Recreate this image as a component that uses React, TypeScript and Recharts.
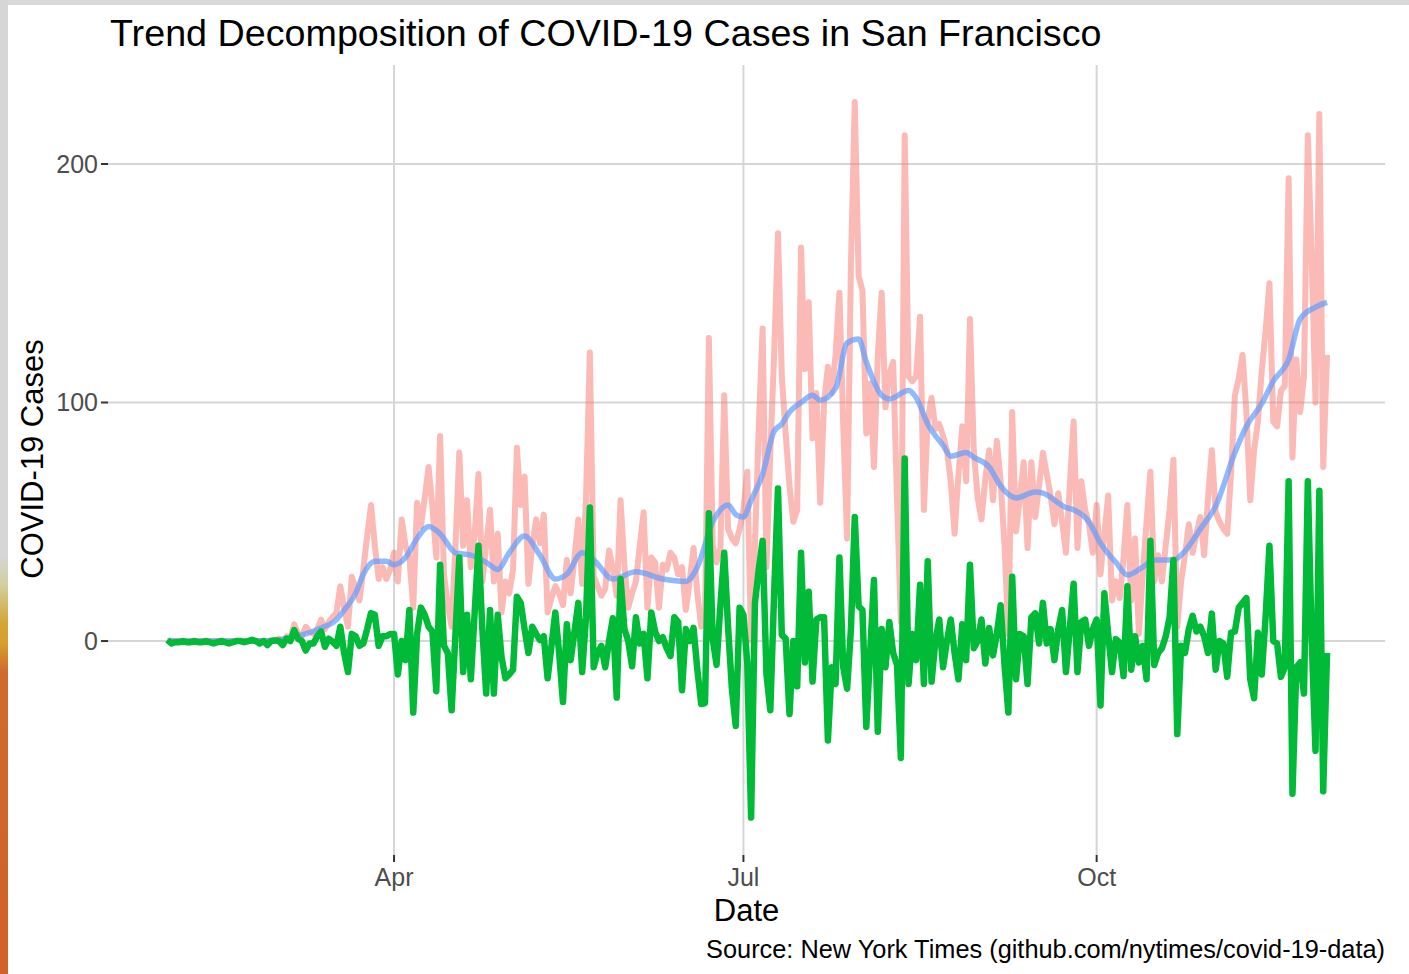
import { LineChart, Line, XAxis, YAxis, CartesianGrid } from 'recharts';

// day 0 = 2020-02-02, one value per day up to 2020-11-30
const monthTicks = [59, 150, 242];
const monthLabels = ['Apr', 'Jul', 'Oct'];
const caseTicks = [0, 100, 200];
const dayDomain = [-15.5, 317.1];
const caseDomain = [-89.7, 241.5];

// observed daily cases
const cases = [
  0, 0, 0, 0, 0, 0, 0, 0, 0, 0,
  0, 0, 0, 0, 0, 0, 0, 0, 0, 0,
  0, 0, 0, 0, 0, 0, 0, 0, 0, 1,
  0, 2, 1, 7, 3, 2, 6, 4, 3, 5,
  9, 5, 8, 10, 12, 23, 14, 6, 27, 22,
  17, 30, 44, 57, 40, 26, 31, 26, 30, 37,
  25, 51, 40, 35, 14, 58, 48, 60, 73, 56,
  35, 86, 28, 15, 6, 40, 79, 40, 59, 31,
  45, 70, 25, 40, 55, 25, 45, 12, 25, 20,
  30, 81, 57, 69, 24, 40, 51, 41, 53, 12,
  18, 23, 20, 15, 34, 20, 35, 51, 24, 60,
  121, 27, 23, 19, 22, 38, 30, 19, 59, 32,
  14, 20, 25, 40, 54, 14, 35, 33, 14, 32,
  30, 37, 35, 28, 31, 13, 25, 39, 20, 6,
  10, 127, 40, 33, 39, 103, 47, 43, 41, 47,
  55, 71, 0, 40, 90, 131, 31, 79, 120, 171,
  111, 87, 65, 50, 55, 165, 114, 142, 85, 104,
  58, 100, 115, 104, 120, 146, 90, 43, 158, 226,
  153, 147, 87, 108, 73, 120, 146, 98, 112, 117,
  60, 8, 212, 111, 109, 111, 136, 55, 93, 102,
  89, 91, 86, 80, 67, 45, 70, 90, 67, 135,
  80, 60, 51, 68, 80, 59, 84, 67, 40, 3,
  96, 46, 60, 75, 39, 75, 52, 65, 79, 70,
  61, 49, 62, 50, 37, 65, 92, 39, 67, 55,
  49, 37, 57, 28, 45, 61, 17, 25, 18, 35,
  57, 17, 43, 3, 28, 50, 71, 25, 36, 25,
  40, 55, 76, 6, 25, 36, 49, 37, 45, 52,
  36, 60, 80, 54, 50, 47, 45, 70, 103, 110,
  120, 96, 59, 80, 92, 113, 130, 150, 92, 90,
  105, 107, 194, 77, 118, 96, 111, 212, 161, 100,
  221, 73, 120,
];

// remainder component
const remainder = [
  0.5, -1, -0.5, -0.5, 0, -0.5, -0.5, 0, -0.5, -0.5,
  0, -0.5, -1, -0.5, 0, -0.5, -1, -0.5, 0, 0,
  -0.5, 0, 0.5, 0, -1, 0, -1.7, 0, 0.3, 0,
  -1.7, 1, 0, 4.6, 1, 0, -4, -1, -1, 2,
  4, -2.4, 1, -0.3, -2, 6, -5, -13, 3, 2,
  -2, -1, 5, 11.7, 11, -2, 2, 2, 3, 3,
  -14, 0, -8, 13, -30, 3, 14, 11, 6, 4,
  -21, 32, -2, -5, -29, 3, 35, -13, 11, -16,
  12, 40, 5, -22, 13, -22, 11, -6.7, -15.6, -14,
  -12, 18.6, 16, 5, -5, 6, 3, 0.4, 2, -15.6,
  -2, 12, -5, -25.6, 7, -8, 4, 16, -13, 10,
  56, -11, -5, -2, -11, 0, 9.6, -23.7, 26, 5,
  0, -10.6, 10, -1, 3, -15.6, 12, 4, 0, 1.6,
  -3, -6.3, 10, 8, -20.6, 5, 0, 5.5, -12, -26.4,
  -26, 53.6, 1, -10, 15, 37, 6, -20, -35.6, 14,
  11, -9, -74, 16, 30, 42, -14, -29, 20, 64,
  2.6, 1, -30.6, 0, -19, 37, -9, 20.7, -17, 9,
  10, 10, -41.7, -11, -18, 35, -11, -20, 5, 52,
  14.6, 13, -36, -5, 25.6, -38, 5, -11, 8, -5,
  -10, -49, 76.5, -18, 3, -8, 23.6, -18, 33.5, -17,
  0, 9, -11, 0, 9, -5, -16, 7, -8, 32,
  -3, 0, 9, -9.4, 5.5, -6, 3, 15, -10, -30,
  27, -16, 3, 2, -18, 10, 11.6, -1, 16, -1,
  5, -8, 5, 13, -13, 5, 24, -13, 8, 9,
  -2, 5, 9, -27, 20, 3, -13, 0.8, -0.6, -14.7,
  23, -12, 2, -9, -2, -16, 42, -10, -5, -3,
  2, 10, 34, -39, -2, -5, 5, 10.6, 4, 6,
  2, -5, 11.5, -12, 0, -1, -15, 3.5, 4, 14,
  16, 18, -16, -24, 3.5, -14, 10, 40, 0, -1,
  -15, -11, 67, -64, -11, -9, -22, 67, 1, -46,
  63, -63, -5,
];

// trend component, read at these days
const trendDays = [
  0, 10, 20, 28, 32, 36, 40, 44, 46, 49, 51, 54, 57, 59, 62, 65, 68, 71, 75, 79,
  83, 86, 89, 93, 97, 101, 104, 108, 111, 116, 122, 129, 135, 138, 142, 144, 146, 148, 150, 152,
  155, 158, 160, 162, 165, 168, 170, 174, 177, 180, 182, 186, 188, 193, 195, 198, 202, 204, 208, 210,
  214, 217, 221, 226, 228, 234, 236, 240, 243, 247, 250, 254, 257, 262, 265, 269, 273, 278, 281, 285,
  288, 292, 295, 299, 302,
];
const trendCases = [
  0, 0, 0, 0.3, 1.5, 3, 5.5, 9, 13, 20, 28, 33.5, 33.5, 32, 35, 43, 48, 45, 37, 36,
  33, 30, 37, 44, 36, 26, 28, 37, 34, 26, 29, 26, 25, 31, 50, 55, 57, 53, 52, 59,
  70, 88, 91, 96, 100, 103, 101, 106, 125, 126.6, 117, 103, 101.5, 105, 102, 91, 82, 77.5, 79, 77,
  73, 65, 60, 62.5, 62, 56, 55, 50, 41, 33, 27.7, 31, 34, 34, 37.7, 47, 56.6, 79, 90, 99.5,
  109, 118, 135, 140, 142,
];

const trendByDay = new Map(trendDays.map((d, i) => [d, trendCases[i]]));

const rows = cases.map((c, i) => ({
  day: i,
  cases: c,
  remainder: remainder[i],
  trend: trendByDay.get(i),
}));

const font = '"Liberation Sans", Arial, sans-serif';

// grid only at the major breaks, no panel border
const gridRows = ({ offset }: any) =>
  caseTicks.map(
    (t) => offset.top + ((caseDomain[1] - t) / (caseDomain[1] - caseDomain[0])) * offset.height
  );
const gridCols = ({ offset }: any) =>
  monthTicks.map(
    (t) => offset.left + ((t - dayDomain[0]) / (dayDomain[1] - dayDomain[0])) * offset.width
  );

export default function App() {
  return (
    <div
      style={{
        position: 'absolute',
        left: 0,
        top: 0,
        width: 1409,
        height: 974,
        background: '#ffffff',
        fontFamily: font,
        overflow: 'hidden',
      }}
    >
      <div style={{ position: 'absolute', left: 0, top: 0, width: 1409, height: 5, background: '#d9d9d9' }} />
      <div
        style={{
          position: 'absolute',
          left: 0,
          top: 0,
          width: 8,
          height: 974,
          background:
            'linear-gradient(to bottom, #d6d6d6 0%, #d6d6d6 57%, #d2cfa2 60%, #d4a535 64%, #d7a02c 66%, #cf6a2c 69%, #d0622a 100%)',
        }}
      />
      <LineChart
        width={1409}
        height={974}
        data={rows}
        margin={{ top: 65, right: 24, bottom: 79, left: 48 }}
        style={{ position: 'absolute', left: 0, top: 0 }}
      >
        <CartesianGrid
          stroke="#d6d6d6"
          strokeWidth={2}
          horizontalCoordinatesGenerator={gridRows}
          verticalCoordinatesGenerator={gridCols}
        />
        <XAxis
          type="number"
          dataKey="day"
          domain={dayDomain}
          ticks={monthTicks}
          tickFormatter={(v: number) => monthLabels[monthTicks.indexOf(v)]}
          interval={0}
          allowDataOverflow
          axisLine={false}
          tickSize={7}
          tickMargin={6}
          tickLine={{ stroke: '#333333', strokeWidth: 2 }}
          tick={{ fill: '#4d4d4d', fontSize: 25, fontFamily: font }}
          height={40}
        />
        <YAxis
          type="number"
          domain={caseDomain}
          ticks={caseTicks}
          interval={0}
          allowDataOverflow
          axisLine={false}
          tickSize={7}
          tickMargin={3}
          tickLine={{ stroke: '#333333', strokeWidth: 2 }}
          tick={{ fill: '#4d4d4d', fontSize: 25, fontFamily: font }}
          width={60}
        />
        <Line
          dataKey="cases"
          type="linear"
          stroke="#F8766D"
          strokeOpacity={0.5}
          strokeWidth={6}
          strokeLinejoin="round"
          dot={false}
          activeDot={false}
          isAnimationActive={false}
        />
        <Line
          dataKey="trend"
          type="monotone"
          connectNulls
          stroke="#619CFF"
          strokeOpacity={0.7}
          strokeWidth={5.5}
          strokeLinejoin="round"
          dot={false}
          activeDot={false}
          isAnimationActive={false}
        />
        <Line
          dataKey="remainder"
          type="linear"
          stroke="#00BA38"
          strokeWidth={6.5}
          strokeLinejoin="round"
          dot={false}
          activeDot={false}
          isAnimationActive={false}
        />
      </LineChart>
      <svg
        width={1409}
        height={974}
        style={{ position: 'absolute', left: 0, top: 0, pointerEvents: 'none' }}
      >
        <text x={110} y={46} fontSize={37.7} fill="#000000" fontFamily={font}>
          Trend Decomposition of COVID-19 Cases in San Francisco
        </text>
        <text
          x={43}
          y={459}
          transform="rotate(-90 43 459)"
          textAnchor="middle"
          fontSize={31}
          fill="#000000"
          fontFamily={font}
        >
          COVID-19 Cases
        </text>
        <text x={746.5} y={921} textAnchor="middle" fontSize={31} fill="#000000" fontFamily={font}>
          Date
        </text>
        <text x={1385} y={958} textAnchor="end" fontSize={25.35} fill="#000000" fontFamily={font}>
          Source: New York Times (github.com/nytimes/covid-19-data)
        </text>
      </svg>
    </div>
  );
}
